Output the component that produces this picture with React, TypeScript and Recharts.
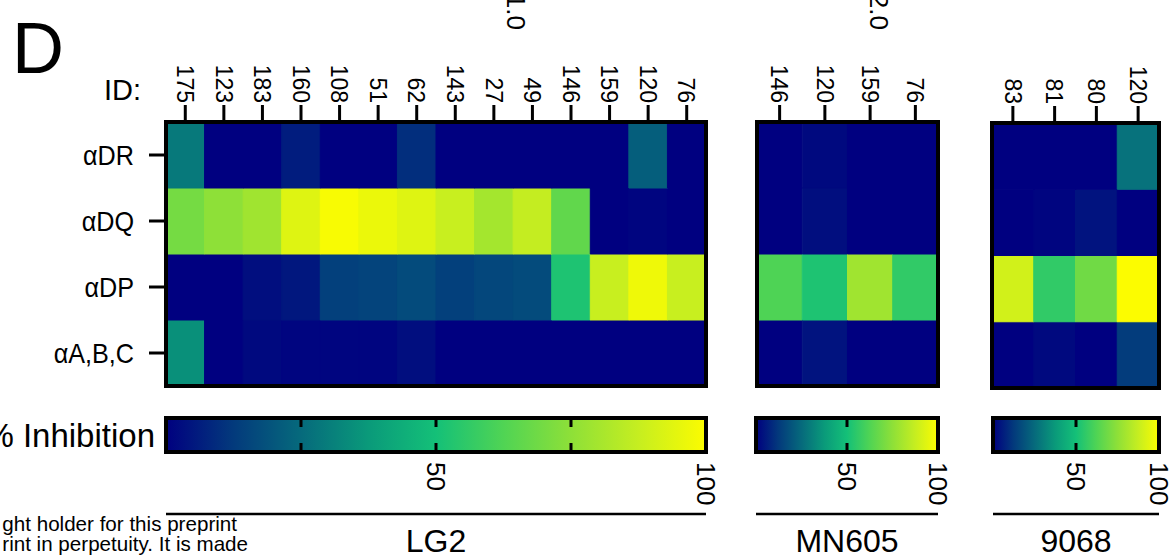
import { Bar, BarChart, Cell, ReferenceLine, XAxis, YAxis } from "recharts";

const FONT = '"Liberation Sans", Arial, Helvetica, sans-serif';

// rows, bottom to top
const rowKeys = ["ABC", "DP", "DQ", "DR"];
const rowTicks = [0.5, 1.5, 2.5, 3.5];
const rowLabels = ["αA,B,C", "αDP", "αDQ", "αDR"];

// % inhibition, LG2
const lg2Ids = ["175", "123", "183", "160", "108", "51", "62", "143", "27", "49", "146", "159", "120", "76"];
const lg2DR = [29, 0, 0, 6, 0, 0, 10, 0, 0, 0, 0, 0, 22, 0];
const lg2DQ = [70, 75, 79, 93, 99, 96, 93, 88, 80, 87, 66, 0, 1, 0];
const lg2DP = [0, 0, 3, 5, 14, 15, 17, 14, 16, 17, 52, 88, 97, 88];
const lg2ABC = [35, 0, 2, 1, 1, 1, 3, 0, 0, 0, 0, 0, 0, 0];

// MN605
const mnIds = ["146", "120", "159", "76"];
const mnDR = [0, 2, 0, 0];
const mnDQ = [0, 3, 0, 0];
const mnDP = [62, 52, 79, 56];
const mnABC = [0, 4, 0, 0];

// 9068
const bIds = ["83", "81", "80", "120"];
const bDR = [0, 0, 0, 27];
const bDQ = [0, 1, 4, 0];
const bDP = [90, 56, 69, 100];
const bABC = [0, 2, 0, 13];

const colorbarTicks = [50, 100];
const lg2Marks = [25, 50, 75];
const smallMarks = [50];

// navy -> teal -> green -> yellow
const cmap: [number, string][] = [
  [0, "#000080"],
  [0.125, "#033a7c"],
  [0.25, "#066a7c"],
  [0.375, "#0a9a7a"],
  [0.5, "#14c078"],
  [0.625, "#50d454"],
  [0.75, "#8ee038"],
  [0.875, "#c6ee20"],
  [1, "#fcfc00"],
];

function rgb(h: string) {
  return [1, 3, 5].map((i) => parseInt(h.slice(i, i + 2), 16));
}

function colorFor(v: number) {
  const t = Math.max(0, Math.min(1, v / 100));
  for (let i = 1; i < cmap.length; i++) {
    if (t <= cmap[i][0]) {
      const [t0, c0] = cmap[i - 1];
      const [t1, c1] = cmap[i];
      const f = (t - t0) / (t1 - t0);
      const a = rgb(c0);
      const b = rgb(c1);
      const c = a.map((x, k) => Math.round(x + (b[k] - x) * f));
      return `rgb(${c[0]},${c[1]},${c[2]})`;
    }
  }
  return cmap[cmap.length - 1][1];
}

const frame = { stroke: "#000", strokeWidth: 4, strokeLinecap: "square" as const };
const tickStroke = { stroke: "#000", strokeWidth: 3 };

function IdTick(props: any) {
  const { x, y, payload } = props;
  return (
    <g transform={`translate(${x},${y}) rotate(90)`}>
      <text x={0} y={0} dy="0.36em" textAnchor="end" fontSize={23} fontFamily={FONT} fill="#000">
        {payload.value}
      </text>
    </g>
  );
}

function RowTick(props: any) {
  const { x, y, payload } = props;
  const label = rowLabels[rowTicks.indexOf(payload.value)];
  return (
    <g transform={`translate(${x},${y}) scale(0.9,1)`}>
      <text x={0} y={0} dy="0.36em" textAnchor="end" fontSize={28} fontFamily={FONT} fill="#000">
        {label}
      </text>
    </g>
  );
}

function CbTick(props: any) {
  const { x, y, payload } = props;
  return (
    <g transform={`translate(${x},${y}) rotate(90)`}>
      <text x={0} y={0} dy="0.36em" textAnchor="start" fontSize={26} fontFamily={FONT} fill="#000">
        {payload.value}
      </text>
    </g>
  );
}

function TitleTick(props: any) {
  const { x, y, payload } = props;
  return (
    <text x={x} y={y} dy="0.36em" textAnchor="end" fontSize={33} fontFamily={FONT} fill="#000">
      {payload.value}
    </text>
  );
}

// short inner marks at the top and bottom edge of the colour bar
function EdgeMark(props: any) {
  const { x1, y1, x2, y2 } = props;
  const top = Math.min(y1, y2);
  const bot = Math.max(y1, y2);
  const x = (x1 + x2) / 2;
  return (
    <g stroke="#000" strokeWidth={3}>
      <line x1={x} x2={x} y1={top} y2={top + 9} />
      <line x1={x} x2={x} y1={bot - 9} y2={bot} />
    </g>
  );
}

function Heatmap(props: {
  ids: string[];
  values: Record<string, number[]>;
  left: number;
  width: number;
  yWidth: number;
  right: number;
  top: number;
  bottom: number;
  labels: boolean;
}) {
  const { ids, values, left, width, yWidth, right, top, bottom, labels } = props;
  const data = ids.map((id) => {
    const row: Record<string, any> = { id };
    rowKeys.forEach((k) => (row[k] = 1));
    return row;
  });
  return (
    <div style={{ position: "absolute", left, top: 0 }}>
      <BarChart
        width={width}
        height={400}
        data={data}
        margin={{ top: 0, right: right - 1, bottom: bottom - 1, left: 0 }}
        barCategoryGap={0}
        barGap={0}
      >
        <XAxis
          dataKey="id"
          orientation="top"
          height={top}
          interval={0}
          tickSize={17}
          tickLine={tickStroke}
          axisLine={frame}
          tick={<IdTick />}
        />
        <XAxis xAxisId="b" dataKey="id" orientation="bottom" height={1} tick={false} tickLine={false} axisLine={frame} />
        <YAxis
          type="number"
          domain={[0, 4]}
          ticks={rowTicks}
          interval={0}
          width={yWidth}
          tickSize={labels ? 17 : 15}
          tickMargin={15}
          tickLine={tickStroke}
          axisLine={frame}
          tick={labels ? <RowTick /> : false}
        />
        <YAxis
          yAxisId="r"
          orientation="right"
          type="number"
          domain={[0, 4]}
          width={1}
          tick={false}
          tickLine={false}
          axisLine={frame}
        />
        {rowKeys.map((k) => (
          <Bar key={k} dataKey={k} stackId="h" isAnimationActive={false}>
            {ids.map((id, i) => {
              const c = colorFor(values[k][i]);
              return <Cell key={id} fill={c} stroke={c} strokeWidth={1} />;
            })}
          </Bar>
        ))}
      </BarChart>
    </div>
  );
}

function ColorBar(props: {
  gid: string;
  left: number;
  width: number;
  plotLeft: number;
  plotWidth: number;
  marks: number[];
  title: string;
  showTitle: boolean;
}) {
  const { gid, left, width, plotLeft, plotWidth, marks, title, showTitle } = props;
  const data = [{ name: "% Inhibition", value: 100 }];
  return (
    <div style={{ position: "absolute", left, top: 400 }}>
      <BarChart
        layout="vertical"
        width={width}
        height={156}
        data={data}
        margin={{ top: 18, right: width - plotLeft - plotWidth, bottom: 0, left: 0 }}
        barCategoryGap={0}
      >
        <defs>
          <linearGradient id={gid} x1="0" y1="0" x2="1" y2="0">
            {cmap.map(([t, c]) => (
              <stop key={t} offset={t} stopColor={c} />
            ))}
          </linearGradient>
        </defs>
        <XAxis
          type="number"
          domain={[0, 100]}
          ticks={colorbarTicks}
          interval={0}
          height={62}
          tickSize={0}
          tickMargin={10}
          tickLine={false}
          axisLine={false}
          tick={<CbTick />}
        />
        <XAxis
          xAxisId="g"
          type="number"
          domain={[0, 100]}
          height={42}
          tick={false}
          tickLine={false}
          axisLine={{ stroke: "#000", strokeWidth: 2.5 }}
          label={{ value: title, position: "insideBottom", offset: 4, fontSize: 32, fill: "#000", fontFamily: FONT }}
        />
        <YAxis
          type="category"
          dataKey="name"
          width={plotLeft}
          tickSize={0}
          tickMargin={11}
          tickLine={false}
          axisLine={false}
          tick={showTitle ? <TitleTick /> : false}
        />
        <Bar dataKey="value" fill={`url(#${gid})`} stroke="#000" strokeWidth={4} isAnimationActive={false} />
        {marks.map((m) => (
          <ReferenceLine key={m} x={m} ifOverflow="visible" shape={<EdgeMark />} />
        ))}
      </BarChart>
    </div>
  );
}

export default function App() {
  return (
    <div
      style={{
        position: "absolute",
        left: 0,
        top: 0,
        width: 1173,
        height: 556,
        overflow: "hidden",
        background: "#fff",
        fontFamily: FONT,
      }}
    >
      <svg width={1173} height={556} style={{ position: "absolute", left: 0, top: 0 }} fontFamily={FONT}>
        <text x={12} y={73} fontSize={72} fill="#000">D</text>
        <text x={104} y={100} fontSize={29} fill="#000">ID:</text>
        <g transform="translate(516,30) rotate(90)">
          <text dy="0.36em" textAnchor="end" fontSize={26} fill="#000">1.0</text>
        </g>
        <g transform="translate(879,30) rotate(90)">
          <text dy="0.36em" textAnchor="end" fontSize={26} fill="#000">2.0</text>
        </g>
        <text x={237} y={531} textAnchor="end" fontSize={20.6} fill="#000">ght holder for this preprint</text>
        <text x={248} y={551} textAnchor="end" fontSize={20.6} fill="#000">rint in perpetuity. It is made</text>
      </svg>
      <Heatmap
        ids={lg2Ids}
        values={{ DR: lg2DR, DQ: lg2DQ, DP: lg2DP, ABC: lg2ABC }}
        left={0}
        width={720}
        yWidth={166}
        right={14}
        top={122}
        bottom={14}
        labels
      />
      <Heatmap
        ids={mnIds}
        values={{ DR: mnDR, DQ: mnDQ, DP: mnDP, ABC: mnABC }}
        left={700}
        width={260}
        yWidth={57}
        right={22}
        top={122}
        bottom={14}
        labels={false}
      />
      <Heatmap
        ids={bIds}
        values={{ DR: bDR, DQ: bDQ, DP: bDP, ABC: bABC }}
        left={940}
        width={233}
        yWidth={52}
        right={14}
        top={123}
        bottom={12}
        labels={false}
      />
      <ColorBar gid="cb-lg2" left={0} width={720} plotLeft={166} plotWidth={540} marks={lg2Marks} title="LG2" showTitle />
      <ColorBar gid="cb-mn605" left={700} width={260} plotLeft={56} plotWidth={182} marks={smallMarks} title="MN605" showTitle={false} />
      <ColorBar gid="cb-9068" left={940} width={233} plotLeft={53} plotWidth={166} marks={smallMarks} title="9068" showTitle={false} />
    </div>
  );
}
